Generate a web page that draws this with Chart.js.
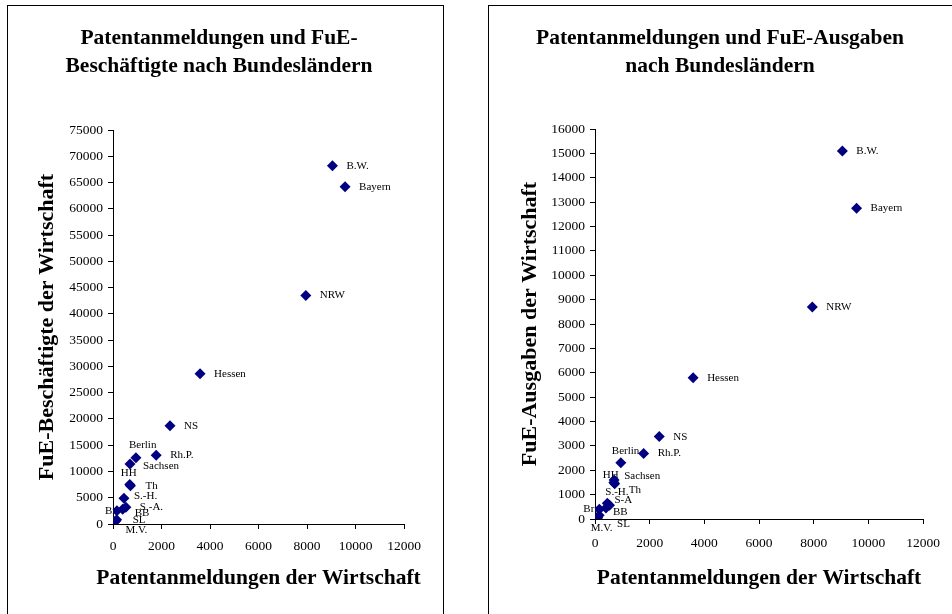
<!DOCTYPE html>
<html>
<head>
<meta charset="utf-8">
<script src="https://cdn.jsdelivr.net/npm/chart.js@4.4.0/dist/chart.umd.min.js"></script>
<style>
  html, body { margin: 0; padding: 0; background: #fff; overflow: hidden; }
  body { width: 952px; height: 614px; position: relative; }
  .box { position: absolute; top: 5px; border: 1px solid #000; background: #fff; }
  #boxLeft { left: 7px; width: 435px; height: 620px; }
  #boxRight { left: 488px; width: 475px; height: 620px; }
  canvas { display: block; }
</style>
</head>
<body>
<div class="box" id="boxLeft"><canvas id="left" width="435" height="609"></canvas></div>
<div class="box" id="boxRight"><canvas id="right" width="470" height="609"></canvas></div>
<script>
// Bundesländer and values
const laender = ['B.W.', 'Bayern', 'NRW', 'Hessen', 'NS', 'Rh.P.', 'Berlin', 'Sachsen', 'HH', 'Th', 'S.-H.', 'S.-A.', 'BB', 'Br', 'SL', 'M.V.'];
const laenderRechts = ['B.W.', 'Bayern', 'NRW', 'Hessen', 'NS', 'Rh.P.', 'Berlin', 'Sachsen', 'HH', 'Th', 'S.-H.', 'S-A', 'BB', 'Br', 'SL', 'M.V.'];
const patente = [9050, 9570, 7950, 3590, 2350, 1780, 945, 700, 690, 720, 450, 530, 400, 160, 150, 100];
const fueBeschaeftigte = [68200, 64200, 43500, 28600, 18700, 13100, 12600, 11400, 7500, 7300, 4900, 3200, 2800, 2500, 800, 500];
const fueAusgaben = [15100, 12750, 8700, 5800, 3380, 2690, 2310, 1600, 1500, 1450, 650, 560, 450, 400, 150, 50];

const xTicks = { min: 0, max: 12000, step: 2000 };
const yTicksLeft = { min: 0, max: 75000, step: 5000 };
const yTicksRight = { min: 0, max: 16000, step: 1000 };

const xTitle = 'Patentanmeldungen der Wirtschaft';

// label placement relative to the point (pixels)
const offsetsLeft = {
  'Berlin': [-7, -13], 'Sachsen': [13, 2], 'HH': [-9, -11], 'Th': [15, 0],
  'S.-H.': [10, -2], 'S.-A.': [14, 0], 'BB': [12, 4], 'Br': [-12, 0],
  'SL': [16, 0], 'M.V.': [10, 9]
};
const offsetsRight = {
  'Berlin': [-9, -12], 'HH': [-11, -7], 'Sachsen': [10, -4], 'Th': [14, 6],
  'S.-H.': [-2, -11], 'S-A': [5, -5], 'BB': [7, 4], 'Br': [-16, 0],
  'SL': [18, 9], 'M.V.': [-7, 10]
};

const serif = '"Liberation Serif", "Times New Roman", serif';

const pointLabels = {
  id: 'pointLabels',
  beforeDatasetsDraw(chart, args, opts) {
    const ctx = chart.ctx;
    const meta = chart.getDatasetMeta(0);
    ctx.save();
    ctx.font = '11px ' + serif;
    ctx.fillStyle = '#000';
    ctx.textAlign = 'left';
    ctx.textBaseline = 'middle';
    meta.data.forEach((pt, i) => {
      const name = opts.names[i];
      const off = opts.offsets[name] || [14, 0];
      ctx.fillText(name, pt.x + off[0], pt.y + off[1]);
    });
    ctx.restore();
  }
};

// x axis title drawn freely so it may be wider than the axis
const xAxisTitle = {
  id: 'xAxisTitle',
  afterDraw(chart, args, opts) {
    const ctx = chart.ctx;
    const a = chart.chartArea;
    ctx.save();
    ctx.font = 'bold 21.5px ' + serif;
    ctx.fillStyle = '#000';
    ctx.textAlign = 'center';
    ctx.textBaseline = 'middle';
    ctx.fillText(opts.text, (a.left + a.right) / 2, opts.y);
    ctx.restore();
  }
};

function axis(t, tickPad) {
  return {
    type: 'linear',
    min: t.min,
    max: t.max,
    ticks: {
      stepSize: t.step,
      color: '#000',
      padding: tickPad,
      font: { family: serif, size: 13.5 },
      callback: v => String(v)
    },
    grid: { drawOnChartArea: false, drawTicks: true, tickLength: 5, color: '#000' },
    border: { display: true, color: '#000', width: 1 }
  };
}

function makeChart(id, names, yValues, yTicks, titleLines, yTitle, offsets, geo) {
  const xs = axis(xTicks, geo.xTickPad);
  xs.afterFit = s => { s.height = geo.xH; };
  const ys = axis(yTicks, 5);
  ys.title = {
    display: true,
    text: yTitle,
    color: '#000',
    padding: { top: 0, bottom: 0 },
    font: { family: serif, size: 22, weight: 'bold', lineHeight: 1.2 }
  };
  ys.afterFit = s => { s.width = geo.yW; };

  return new Chart(document.getElementById(id), {
    type: 'scatter',
    data: {
      datasets: [{
        data: patente.map((p, i) => ({ x: p, y: yValues[i] })),
        pointStyle: 'rectRot',
        pointRadius: 5.5,
        backgroundColor: '#000080',
        borderColor: '#000080',
        borderWidth: 0
      }]
    },
    options: {
      responsive: false,
      animation: false,
      layout: { padding: geo.padding },
      scales: { x: xs, y: ys },
      plugins: {
        legend: { display: false },
        tooltip: { enabled: false },
        title: {
          display: true,
          text: titleLines,
          color: '#000',
          padding: { top: 4, bottom: geo.titleBottom },
          font: { family: serif, size: 21.5, weight: 'bold', lineHeight: '28px' }
        },
        pointLabels: { names: names, offsets: offsets },
        xAxisTitle: { text: xTitle, y: 572 }
      }
    },
    plugins: [pointLabels, xAxisTitle]
  });
}

makeChart('left', laender, fueBeschaeftigte, yTicksLeft,
  ['Patentanmeldungen und FuE-', 'Beschäftigte nach Bundesländern'],
  'FuE-Beschäftigte der Wirtschaft', offsetsLeft,
  { padding: { left: 26, top: 14, right: 39, bottom: 24 }, yW: 79, xH: 67, titleBottom: 50, xTickPad: 9 });

makeChart('right', laenderRechts, fueAusgaben, yTicksRight,
  ['Patentanmeldungen und FuE-Ausgaben', 'nach Bundesländern'],
  'FuE-Ausgaben der Wirtschaft', offsetsRight,
  { padding: { left: 28, top: 14, right: 36, bottom: 24 }, yW: 78, xH: 72, titleBottom: 49, xTickPad: 11 });
</script>
</body>
</html>
